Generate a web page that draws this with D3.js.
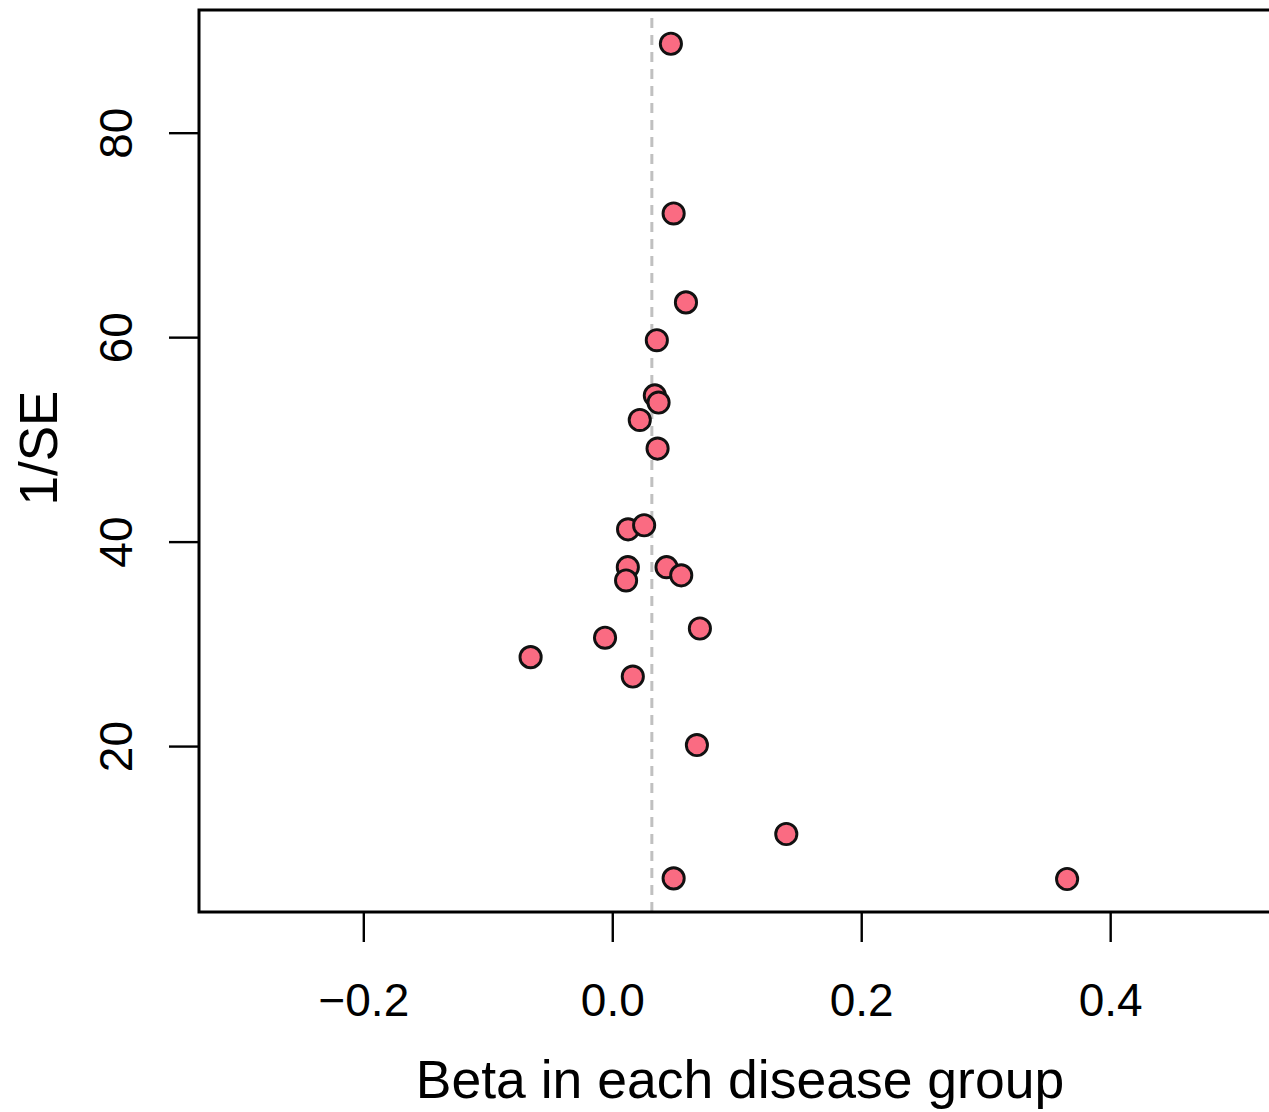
<!DOCTYPE html>
<html>
<head>
<meta charset="utf-8">
<script src="https://cdn.jsdelivr.net/npm/d3@7"></script>
<style>
  body { margin: 0; background: #fff; }
  text { font-family: "Liberation Sans", Arial, Helvetica, sans-serif; fill: #000; }
</style>
</head>
<body>
<div id="chart"></div>
<script>
// beta and 1/SE per disease group
const beta = [0.0471, 0.0493, 0.0592, 0.0358, 0.0342, 0.0372, 0.0221, 0.0364,
  0.0127, 0.0256, 0.0125, 0.0111, 0.0436, 0.0554, 0.0704, -0.0058, -0.0656,
  0.0165, 0.0680, 0.1398, 0.0493, 0.3654];
const invSE = [88.7, 72.1, 63.4, 59.7, 54.3, 53.6, 51.9, 49.1,
  41.2, 41.6, 37.5, 36.2, 37.5, 36.7, 31.5, 30.6, 28.7,
  26.8, 20.1, 11.4, 7.06, 7.0];
const xTicks = [-0.2, 0.0, 0.2, 0.4];
const yTicks = [20, 40, 60, 80];
const pooledBeta = 0.0318;

const width = 1269;
const height = 1112;

const margin = {
  left: 199,
  right: -3,
  top: 10,
  bottom: 200
};

const x = d3.scaleLinear()
  .domain([-0.332, 0.53])
  .range([margin.left, width - margin.right]);

const y = d3.scaleLinear()
  .domain([3.77, 92.0])
  .range([height - margin.bottom, margin.top]);

const svg = d3.select("#chart").append("svg")
  .attr("width", width)
  .attr("height", height);

//------------------------------------------------------------- axes
let xAxis = d3.axisBottom(x)
  .tickValues(xTicks)
  .tickSize(30)
  .tickFormat(d3.format(".1f"));

let yAxis = d3.axisLeft(y)
  .tickValues(yTicks)
  .tickSize(30)
  .tickFormat(d3.format("d"));

let gx = svg.append("g")
  .attr("transform", "translate(0," + (height - margin.bottom) + ")")
  .call(xAxis);
gx.select(".domain").remove();
gx.selectAll(".tick line").attr("stroke", "#000").attr("stroke-width", 2.4);
gx.selectAll(".tick text")
  .style("font-size", "46px")
  .attr("dy", "0.71em")
  .attr("y", 71);

let gy = svg.append("g")
  .attr("transform", "translate(" + margin.left + ",0)")
  .call(yAxis);
gy.select(".domain").remove();
gy.selectAll(".tick line").attr("stroke", "#000").attr("stroke-width", 2.4);
gy.selectAll(".tick text")
  .style("font-size", "46px")
  .attr("text-anchor", "middle")
  .attr("x", 0)
  .attr("dy", 0)
  .attr("transform", "translate(-67,0) rotate(-90)");

//------------------------------------------------------------- reference line
svg.append("line")
  .attr("x1", x(pooledBeta))
  .attr("x2", x(pooledBeta))
  .attr("y1", y.range()[0])
  .attr("y2", y.range()[1])
  .attr("stroke", "#c0c0c0")
  .attr("stroke-width", 3)
  .attr("stroke-dasharray", "10,7");

//------------------------------------------------------------- points
svg.selectAll("circle.pt")
  .data(d3.range(beta.length))
  .enter().append("circle")
  .attr("class", "pt")
  .attr("cx", i => x(beta[i]))
  .attr("cy", i => y(invSE[i]))
  .attr("r", 10.6)
  .attr("fill", "#fa6b82")
  .attr("stroke", "#111")
  .attr("stroke-width", 2.9);

//------------------------------------------------------------- box
svg.append("rect")
  .attr("x", margin.left)
  .attr("y", margin.top)
  .attr("width", width - margin.left + 10)
  .attr("height", (height - margin.bottom) - margin.top)
  .attr("fill", "none")
  .attr("stroke", "#000")
  .attr("stroke-width", 3);

//------------------------------------------------------------- labels
svg.append("text")
  .attr("x", 740)
  .attr("y", 1098)
  .attr("text-anchor", "middle")
  .style("font-size", "53.5px")
  .text("Beta in each disease group");

svg.append("text")
  .attr("transform", "translate(57,448) rotate(-90)")
  .attr("text-anchor", "middle")
  .style("font-size", "53px")
  .text("1/SE");
</script>
</body>
</html>
